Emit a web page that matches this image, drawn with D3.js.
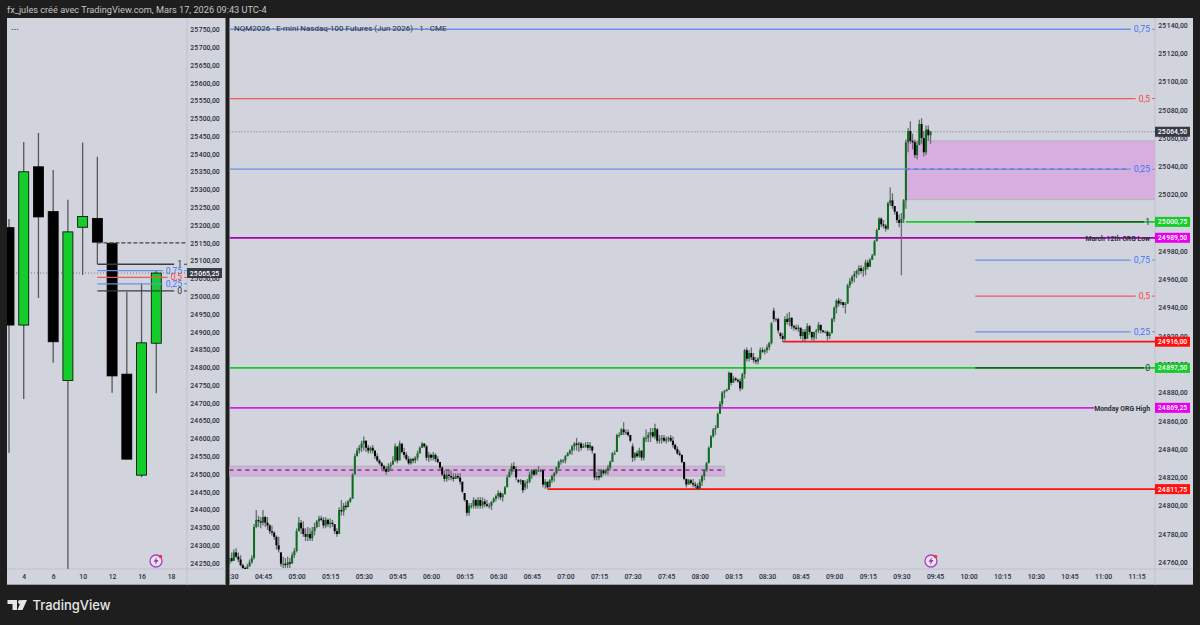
<!DOCTYPE html>
<html>
  <head>
    <meta charset="utf-8" />
    <script src="https://d3js.org/d3.v7.min.js"></script>
    <style>
      body { margin: 0; background: #1e1e1e; }
      text { font-family: Roboto, sans-serif; }
      .domain { display: none; }
      .tick text { fill: #2a2e39; font-size: 6.8px; font-weight: 500; font-family: Roboto, sans-serif; }
    </style>
  </head>

  <body>
    <svg id="chart" width="1200" height="625"></svg>

    <script>
      // daily pane, Mar 3 -> Mar 18
      const dayLabels = [3, 4, 5, 6, 9, 10, 11, 12, 13, 16, 17, 18];
      const dayTicks = [4, 6, 10, 12, 16, 18];
      const dayOpens = [25193, 24919, 25364, 25238, 24763, 25194, 25219, 25149, 24781, 24497, 24868];
      const dayHighs = [25217, 25434, 25459, 25355, 25271, 25432, 25392, 25150, 25013, 25036, 25074];
      const dayLows = [24560, 24711, 24995, 24813, 24233, 25060, 25091, 24729, 24542, 24491, 24727];
      const dayCloses = [24919, 25350, 25223, 24872, 25181, 25224, 25152, 24776, 24542, 24869, 25065.25];
      const dayFibLabels = ["1", "0,75", "0,5", "0,25", "0"];
      const dayFibPrices = [25090, 25072, 25053, 25035, 25015];
      const dayDashedPrice = 25150;
      const dayLastPrice = 25065.25;

      // 1 minute pane, values are points above priceBase, one line = 15 minutes
      const priceBase = 24700;
      const sessionStart = "04:30";
      const opens = [
        59,63,61,67,64,62,58,56,55,57,60,63,85,90,89,
        88,92,88,86,82,81,78,72,67,59,59,58,60,59,65,
        68,82,88,84,80,78,80,77,82,85,89,91,90,86,90,
        87,88,87,82,80,97,96,100,99,103,105,122,135,139,141,
        144,146,141,139,141,139,135,132,130,128,126,124,128,129,132,
        142,132,144,138,136,133,130,133,132,134,137,141,144,142,134,
        136,134,136,133,131,127,122,119,122,121,120,119,121,120,117,
        109,104,95,100,100,104,100,104,100,103,101,100,100,103,105,
        107,109,106,108,113,120,124,128,126,118,117,118,113,116,117,
        122,125,122,125,125,125,115,117,113,118,121,123,127,131,132,
        132,135,137,139,142,144,143,144,141,142,143,141,142,137,120,
        121,120,125,123,125,127,131,137,138,150,150,154,152,152,150,
        142,134,137,135,139,134,148,148,150,152,149,154,146,147,148,
        146,147,148,146,143,140,137,136,131,119,115,118,116,115,114,
        112,117,121,125,130,141,149,154,155,165,172,180,181,182,194,
        187,190,189,188,183,193,210,204,208,205,203,202,204,210,209,
        210,212,215,238,232,232,222,220,218,232,230,233,227,226,225,
        226,220,223,218,227,223,219,223,224,228,224,223,223,220,222,
        232,240,245,243,244,242,243,256,259,262,264,266,268,266,267,
        272,269,274,277,287,295,303,299,298,296,314,316,312,308,302,
        300,303,316,357,365,358,357,348,355,370,360,350,366,362
      ];
      const highs = [
        65,67,69,70,67,65,59,57,59,62,65,87,97,93,92,
        97,93,92,87,86,82,79,78,67,64,63,64,63,67,70,
        84,92,90,89,84,85,84,85,88,90,93,93,92,92,91,
        91,90,86,84,99,104,102,103,104,106,123,137,141,143,146,
        149,146,143,142,143,139,137,133,131,129,128,130,131,135,144,
        141,146,141,141,138,135,134,134,135,139,142,145,144,143,138,
        137,138,137,135,131,128,125,125,126,125,123,123,123,123,116,
        109,104,102,102,106,105,106,106,106,105,104,102,103,106,108,
        111,110,109,114,122,126,130,131,128,119,119,118,118,119,124,
        126,126,126,128,126,125,119,117,119,122,124,128,132,133,133,
        136,138,140,143,145,148,145,145,144,145,145,145,142,137,124,
        125,126,126,126,129,132,138,139,151,152,155,159,154,154,150,
        144,138,139,141,139,149,154,152,155,155,158,155,150,150,150,
        149,149,150,149,144,142,139,136,131,119,119,119,119,117,116,
        119,122,126,131,142,150,155,157,166,174,181,182,183,195,194,
        192,191,190,190,194,211,212,210,212,208,205,205,212,212,211,
        214,216,230,240,233,233,223,222,234,236,237,233,228,228,228,
        225,225,225,229,228,221,222,225,230,225,224,224,224,223,233,
        241,246,247,246,244,244,257,261,263,266,267,270,270,269,274,
        274,275,278,288,296,304,304,302,299,315,325,321,312,306,306,
        307,317,359,367,372,363,359,358,373,374,365,369,369,365
      ];
      const lows = [
        58,60,62,63,60,57,54,52,55,57,59,62,84,85,84,
        86,85,83,80,79,76,69,67,57,56,56,56,56,60,63,
        67,82,80,78,75,75,75,75,79,84,85,89,84,84,85,
        84,85,80,78,82,93,93,97,99,102,105,123,135,137,138,
        139,138,137,137,137,133,131,129,126,124,122,125,126,130,131,
        130,137,137,134,132,129,129,130,130,132,137,141,141,132,131,
        132,132,131,130,126,121,117,117,118,118,117,119,119,115,109,
        103,93,93,98,98,98,98,98,98,99,99,98,97,102,103,
        105,104,103,109,114,121,122,124,118,116,115,109,111,112,116,
        119,121,123,124,124,113,112,112,115,116,117,122,126,129,130,
        130,135,136,136,139,139,138,139,141,141,139,139,137,118,118,
        118,121,122,122,122,125,131,136,138,148,150,150,150,149,145,
        131,132,134,134,132,132,145,145,145,148,147,144,144,144,145,
        144,145,145,141,139,136,135,130,118,113,115,115,113,112,111,
        112,114,118,124,131,142,148,150,156,166,170,176,181,182,185,
        187,188,187,181,182,190,202,202,203,201,200,200,203,208,207,
        208,210,214,230,230,222,218,216,216,228,227,225,224,224,223,
        218,216,216,222,221,217,216,218,222,222,222,222,217,218,222,
        230,236,241,242,240,236,243,254,257,258,261,263,264,262,263,
        267,271,274,277,288,296,297,296,294,295,312,310,306,300,297,
        263,300,310,350,356,352,346,345,356,356,347,348,358,356
      ];
      const closes = [
        63,61,67,64,62,58,56,55,57,60,63,85,90,89,88,
        92,88,86,82,81,78,72,69,59,59,58,60,59,65,68,
        82,88,84,80,78,80,77,82,85,89,91,90,86,90,87,
        88,87,82,80,97,96,100,99,103,105,122,135,139,141,144,
        146,141,139,141,139,135,132,130,128,126,124,128,129,132,142,
        132,144,138,136,133,130,133,132,134,137,141,144,142,134,136,
        134,136,133,131,127,122,119,122,121,120,119,121,120,117,110,
        104,95,100,100,104,100,104,100,103,101,100,100,103,105,107,
        109,106,108,113,120,124,128,126,120,117,118,111,116,117,122,
        125,122,125,125,125,115,117,113,118,121,123,127,131,132,132,
        135,137,139,142,144,143,144,141,142,143,141,143,139,120,121,
        120,125,123,125,127,131,137,137,150,150,154,152,152,150,146,
        134,137,135,139,134,148,148,150,152,149,155,146,147,148,146,
        147,148,146,143,140,137,136,131,119,115,118,116,115,114,112,
        117,121,125,130,141,149,154,155,165,172,180,181,182,194,187,
        190,189,188,183,193,210,204,208,205,203,202,204,210,209,210,
        212,215,229,232,232,224,220,218,232,230,233,227,226,225,226,
        220,223,218,227,223,219,223,224,228,224,223,223,220,222,232,
        240,245,243,244,242,243,256,259,262,264,266,268,266,267,272,
        269,274,277,287,295,303,299,298,296,314,316,312,308,302,300,
        303,316,357,365,358,357,348,355,370,360,350,366,362,364.5
      ];

      // horizontal levels on the 1 minute pane
      const upperFibLabels = ["0,75", "0,5", "0,25"];
      const upperFibPrices = [25137, 25088, 25038];
      const lowerFibLabels = ["0,75", "0,5", "0,25"];
      const lowerFibPrices = [24973.75, 24948.25, 24923];
      const lowerFibStart = "10:03";
      const levelTexts = ["1", "March 12th ORG Low", "", "0", "Monday ORG High", ""];
      const levelPrices = [25000.75, 24989.5, 24916, 24897.5, 24869.25, 24811.75];
      const levelStarts = ["09:32", "04:30", "08:37", "04:30", "04:30", "06:52"];
      const zoneTops = [25058, 24828];
      const zoneBottoms = [25016.5, 24821];
      const zoneMids = [25038, 24825.25];
      const zoneStarts = ["09:32", "04:30"];
      const zoneEnds = ["11:30", "08:11"];
      const zoneMidEnds = ["11:12", "08:11"];
      const lastPrice = 25064.5;
      const rightPriceTicks = d3.range(24760, 25141, 20);
      const leftPriceTicks = d3.range(24250, 25751, 50);

      const svg = d3.select("svg#chart");

      const green = "#14cc2a";
      const red = "#ff1010";
      const magenta = "#e600ee";
      const blue = "#6a90ea";
      const fibRed = "#f25a5a";
      const paneFill = "#d1d4dc";
      const dividerColor = "#bfc2cb";

      const frFormat = d3.formatLocale({
        decimal: ",",
        thousands: "\u200a",
        grouping: [3],
        currency: ["", ""],
      }).format(",.2f");

      const timeOf = (s) => {
        const [h, m] = s.split(":").map(Number);
        return new Date(2026, 2, 17, h, m);
      };

      // frame
      svg
        .append("text")
        .attr("x", 7)
        .attr("y", 13)
        .attr("fill", "#c4c4c4")
        .style("font-size", "9.2px")
        .text("fx_jules créé avec TradingView.com, Mars 17, 2026 09:43 UTC-4");

      const panes = [
        { x: 7, w: 218.5, divider: 187 },
        { x: 229.5, w: 963.5, divider: 1155 },
      ];
      panes.forEach((p) => {
        svg
          .append("rect")
          .attr("x", p.x)
          .attr("y", 18)
          .attr("width", p.w)
          .attr("height", 567)
          .attr("fill", paneFill);
        svg
          .append("line")
          .attr("x1", p.x)
          .attr("x2", p.x + p.w)
          .attr("y1", 584.5)
          .attr("y2", 584.5)
          .attr("stroke", "#9b9ea6");
        svg
          .append("line")
          .attr("x1", p.divider)
          .attr("x2", p.divider)
          .attr("y1", 18)
          .attr("y2", 585)
          .attr("stroke", dividerColor);
        svg
          .append("line")
          .attr("x1", p.x)
          .attr("x2", p.x + p.w)
          .attr("y1", 569)
          .attr("y2", 569)
          .attr("stroke", dividerColor);
      });

      const defs = svg.append("defs");
      defs
        .append("clipPath")
        .attr("id", "clipLeft")
        .append("rect")
        .attr("x", 7)
        .attr("y", 18)
        .attr("width", 180)
        .attr("height", 551);
      defs
        .append("clipPath")
        .attr("id", "clipRight")
        .append("rect")
        .attr("x", 229.5)
        .attr("y", 18)
        .attr("width", 925.5)
        .attr("height", 551);
      defs
        .append("clipPath")
        .attr("id", "clipTimeAxis")
        .append("rect")
        .attr("x", 229.5)
        .attr("y", 569)
        .attr("width", 925.5)
        .attr("height", 16);

      // ---------- left pane ----------
      const xDay = d3.scalePoint().domain(dayLabels).range([9, 171]);
      const yLeft = d3.scaleLinear().domain([24250, 25750]).range([563, 29.5]);

      svg
        .append("g")
        .attr("transform", "translate(187,0)")
        .call(d3.axisRight(yLeft).tickValues(leftPriceTicks).tickSize(0).tickPadding(18).tickFormat(frFormat))
        .selectAll("text")
        .attr("text-anchor", "middle");

      svg
        .append("g")
        .attr("transform", "translate(0,569)")
        .call(d3.axisBottom(xDay).tickValues(dayTicks).tickSize(0).tickPadding(5));

      svg
        .append("text")
        .attr("x", 11)
        .attr("y", 30)
        .attr("fill", "#2a2e39")
        .style("font-size", "10px")
        .text("...");

      const leftPlot = svg.append("g").attr("clip-path", "url(#clipLeft)");

      leftPlot
        .append("line")
        .attr("x1", 7)
        .attr("x2", 187)
        .attr("y1", yLeft(dayLastPrice))
        .attr("y2", yLeft(dayLastPrice))
        .attr("stroke", "#777")
        .attr("stroke-dasharray", "1,2");

      const dayRows = dayOpens.map((o, i) => ({
        day: dayLabels[i],
        o,
        h: dayHighs[i],
        l: dayLows[i],
        c: dayCloses[i],
      }));

      leftPlot
        .selectAll("line.wick")
        .data(dayRows)
        .join("line")
        .attr("class", "wick")
        .attr("x1", (d) => xDay(d.day))
        .attr("x2", (d) => xDay(d.day))
        .attr("y1", (d) => yLeft(d.h))
        .attr("y2", (d) => yLeft(d.l))
        .attr("stroke", "#55575c")
        .attr("stroke-width", 1.3);

      leftPlot
        .selectAll("rect.body")
        .data(dayRows)
        .join("rect")
        .attr("class", "body")
        .attr("x", (d) => xDay(d.day) - 5)
        .attr("width", 10)
        .attr("y", (d) => yLeft(Math.max(d.o, d.c)))
        .attr("height", (d) => Math.abs(yLeft(d.o) - yLeft(d.c)))
        .attr("fill", (d) => (d.c >= d.o ? green : "#000"))
        .attr("stroke", "#000")
        .attr("stroke-width", 0.8);

      leftPlot
        .append("line")
        .attr("x1", xDay(11))
        .attr("x2", 187)
        .attr("y1", yLeft(dayDashedPrice))
        .attr("y2", yLeft(dayDashedPrice))
        .attr("stroke", "#4a3f4c")
        .attr("stroke-width", 1.4)
        .attr("stroke-dasharray", "4,2");

      // fib labels first, each line stops just before its label
      const drawFib = (parent, label, y, x1, textRight, tickTo) => {
        const lineColor = fibColor(label);
        const t = parent
          .append("text")
          .attr("x", textRight)
          .attr("y", y + 3)
          .attr("text-anchor", "end")
          .attr("fill", fibTextColor(label))
          .style("font-size", "8.6px")
          .text(label);
        const w = t.node().getComputedTextLength();
        parent
          .append("line")
          .attr("x1", x1)
          .attr("x2", textRight - w - 3)
          .attr("y1", y)
          .attr("y2", y)
          .attr("stroke", lineColor)
          .attr("stroke-width", 1.3);
        parent
          .append("line")
          .attr("x1", textRight + 2)
          .attr("x2", tickTo)
          .attr("y1", y)
          .attr("y2", y)
          .attr("stroke", lineColor);
      };

      const fibColor = (label) =>
        label === "0,5" ? fibRed : label === "1" || label === "0" ? "#3a3d45" : blue;
      const fibTextColor = (label) =>
        label === "0,5" ? "#ff3d3d" : label === "1" || label === "0" ? "#2a2e39" : "#3d74ff";

      dayFibLabels.forEach((label, i) => {
        drawFib(svg, label, yLeft(dayFibPrices[i]), xDay(11), 182, 187);
      });

      // ---------- right pane ----------
      const xTime = d3
        .scaleTime()
        .domain([timeOf("04:30"), timeOf("11:15")])
        .range([229.4, 1136.6]);
      const yRight = d3.scaleLinear().domain([24760, 25140]).range([562.3, 25]);

      svg
        .append("g")
        .attr("transform", "translate(1155,0)")
        .call(d3.axisRight(yRight).tickValues(rightPriceTicks).tickSize(0).tickPadding(18).tickFormat(frFormat))
        .selectAll("text")
        .attr("text-anchor", "middle");

      svg
        .append("g")
        .attr("clip-path", "url(#clipTimeAxis)")
        .append("g")
        .attr("transform", "translate(0,569)")
        .call(
          d3
            .axisBottom(xTime)
            .ticks(d3.timeMinute.every(15))
            .tickSize(0)
            .tickPadding(5)
            .tickFormat(d3.timeFormat("%H:%M"))
        );

      const plot = svg.append("g").attr("clip-path", "url(#clipRight)");

      plot
        .selectAll("rect.zone")
        .data(zoneTops)
        .join("rect")
        .attr("class", "zone")
        .attr("x", (d, i) => xTime(timeOf(zoneStarts[i])))
        .attr("width", (d, i) => xTime(timeOf(zoneEnds[i])) - xTime(timeOf(zoneStarts[i])))
        .attr("y", (d) => yRight(d))
        .attr("height", (d, i) => yRight(zoneBottoms[i]) - yRight(d))
        .attr("fill", "#d7aee0")
        .attr("stroke", "#b5b3bb")
        .attr("stroke-width", 1);

      plot
        .append("line")
        .attr("x1", 229.5)
        .attr("x2", 1155)
        .attr("y1", yRight(lastPrice))
        .attr("y2", yRight(lastPrice))
        .attr("stroke", "#777")
        .attr("stroke-dasharray", "1,2");

      upperFibLabels.forEach((label, i) => {
        drawFib(svg, label, yRight(upperFibPrices[i]), 229.5, 1150, 1155);
      });
      lowerFibLabels.forEach((label, i) => {
        drawFib(svg, label, yRight(lowerFibPrices[i]), xTime(timeOf(lowerFibStart)), 1150, 1155);
      });

      zoneMids.forEach((m, i) => {
        plot
          .append("line")
          .attr("x1", xTime(timeOf(zoneStarts[i])))
          .attr("x2", xTime(timeOf(zoneMidEnds[i])))
          .attr("y1", yRight(m))
          .attr("y2", yRight(m))
          .attr("stroke", "#222")
          .attr("stroke-dasharray", "4,4");
      });

      // tagged levels
      const levelColors = [green, "#a800ae", red, green, "#d420e0", red];
      const tagColors = [green, magenta, red, green, magenta, red];

      levelPrices.forEach((price, i) => {
        const y = yRight(price);
        const x1 = xTime(timeOf(levelStarts[i]));
        const text = levelTexts[i];
        const bold = text.length > 1;
        plot
          .append("line")
          .attr("x1", x1)
          .attr("x2", text === "Monday ORG High" ? 1094 : 1155)
          .attr("y1", y)
          .attr("y2", y)
          .attr("stroke", levelColors[i])
          .attr("stroke-width", 1.7);
        if (text === "1" || text === "0") {
          plot
            .append("line")
            .attr("x1", xTime(timeOf(lowerFibStart)))
            .attr("x2", 1144)
            .attr("y1", y)
            .attr("y2", y)
            .attr("stroke", "#10441c")
            .attr("stroke-width", 1.2);
        }
        if (text) {
          svg
            .append("text")
            .attr("x", 1150)
            .attr("y", y + 3)
            .attr("text-anchor", "end")
            .attr("fill", "#2a2e39")
            .attr("font-weight", bold ? 700 : 400)
            .style("font-size", bold ? "6.8px" : "8.6px")
            .text(text);
        }
      });

      // candles
      const candleRows = opens.map((o, i) => ({
        t: d3.timeMinute.offset(timeOf(sessionStart), i),
        o: priceBase + o,
        h: priceBase + highs[i],
        l: priceBase + lows[i],
        c: priceBase + closes[i],
      }));

      plot
        .selectAll("line.wick")
        .data(candleRows)
        .join("line")
        .attr("class", "wick")
        .attr("x1", (d) => xTime(d.t))
        .attr("x2", (d) => xTime(d.t))
        .attr("y1", (d) => yRight(d.h))
        .attr("y2", (d) => yRight(d.l))
        .attr("stroke", "#6a6c72")
        .attr("stroke-width", 1.3);

      plot
        .selectAll("rect.body")
        .data(candleRows)
        .join("rect")
        .attr("class", "body")
        .attr("x", (d) => xTime(d.t) - 1)
        .attr("width", 2)
        .attr("y", (d) => yRight(Math.max(d.o, d.c)))
        .attr("height", (d) => Math.max(1, Math.abs(yRight(d.o) - yRight(d.c))))
        .attr("fill", (d) => (d.c >= d.o ? "#0b6e1c" : "#000"));

      // price tags on the axis
      const drawTag = (x, w, y, price, fill) => {
        svg
          .append("rect")
          .attr("x", x)
          .attr("y", y - 5)
          .attr("width", w)
          .attr("height", 10)
          .attr("fill", fill);
        svg
          .append("text")
          .attr("x", x + w / 2)
          .attr("y", y + 2.5)
          .attr("text-anchor", "middle")
          .attr("fill", "#fff")
          .attr("font-weight", 500)
          .style("font-size", "6.8px")
          .text(frFormat(price));
      };
      levelPrices.forEach((price, i) => drawTag(1155, 35, yRight(price), price, tagColors[i]));
      drawTag(1155, 35, yRight(lastPrice), lastPrice, "#363a45");
      drawTag(187, 35, yLeft(dayLastPrice), dayLastPrice, "#363a45");

      svg
        .append("text")
        .attr("x", 234)
        .attr("y", 31)
        .attr("fill", "#2a2e39")
        .style("font-size", "8px")
        .text("NQM2026 · E-mini Nasdaq-100 Futures (Jun 2026) · 1 · CME");

      // bolt badges on the time axis
      [156, 931].forEach((cx) => {
        const b = svg.append("g").attr("transform", `translate(${cx},561)`);
        b.append("circle").attr("r", 6).attr("fill", "#e8e4ee").attr("stroke", "#b03cc8").attr("stroke-width", 1.3);
        b.append("path").attr("d", "M1,-4 L-2.5,0.8 L-0.3,0.8 L-1,4 L2.5,-1 L0.3,-1 Z").attr("fill", "#9c33b8");
        b.append("circle").attr("cx", 4.5).attr("cy", -4.5).attr("r", 1.8).attr("fill", "#f23645");
      });

      // TradingView mark
      const logo = svg.append("g").attr("fill", "#e6e6e6");
      logo.append("path").attr("d", "M7.5,600 H17 V610 H12.5 V604 H7.5 Z");
      logo.append("circle").attr("cx", 20).attr("cy", 602).attr("r", 2);
      logo.append("path").attr("d", "M21.5,600 H27 L22.5,610 H17.5 Z");
      logo
        .append("text")
        .attr("x", 32.5)
        .attr("y", 610)
        .attr("font-weight", 500)
        .style("font-family", "Inter, sans-serif")
        .style("font-size", "13px")
        .text("TradingView");
    </script>
  </body>
</html>
